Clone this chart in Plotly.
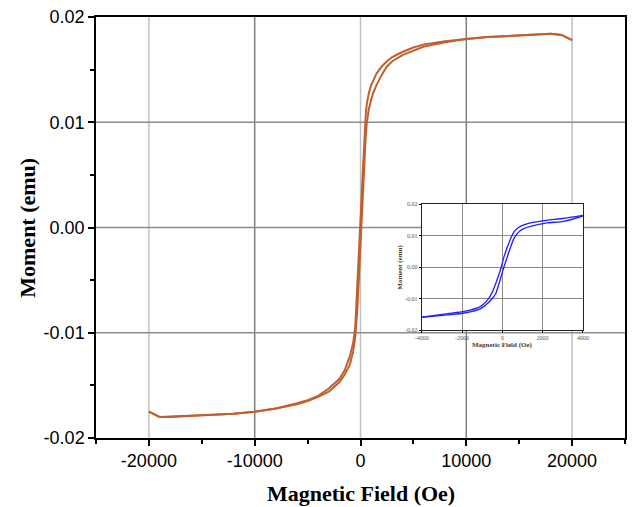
import plotly.graph_objects as go

# ---------------- main loop data ----------------
h_desc = [20000, 19000, 18000, 16000, 14000, 12000, 10000, 8000, 6000, 5000, 4000, 3000,
          2500, 2000, 1500, 1200, 1000, 800, 600, 500, 400, 300, 200, 100, 0, -100, -200,
          -300, -400, -500, -700, -1000, -1500, -2000, -3000, -4000, -5000, -6000, -8000,
          -10000, -12000, -14000, -16000, -18000, -19000, -20000]
m_desc = [0.0178, 0.0183, 0.0184, 0.0183, 0.0182, 0.0181, 0.0179, 0.0177, 0.0174, 0.0171,
          0.0167, 0.0162, 0.0158, 0.0153, 0.0146, 0.0140, 0.0135, 0.0128, 0.0118, 0.0108,
          0.0092, 0.0072, 0.0050, 0.0028, 0.0008, -0.0012, -0.0032, -0.0055, -0.0078,
          -0.0095, -0.0110, -0.0122, -0.0136, -0.0144, -0.0153, -0.0160, -0.0164, -0.0167,
          -0.0172, -0.0175, -0.0177, -0.0178, -0.0179, -0.0180, -0.0180, -0.0175]

h_asc = [-20000, -19000, -18000, -16000, -14000, -12000, -10000, -8000, -6000, -5000, -4000,
         -3000, -2000, -1500, -1000, -700, -500, -400, -300, -200, -100, 0, 100, 200, 300,
         400, 500, 600, 800, 1000, 1200, 1500, 2000, 2500, 3000, 4000, 5000, 6000, 8000,
         10000, 12000, 14000, 16000, 18000, 19000, 20000]
m_asc = [-0.0175, -0.0180, -0.0180, -0.0179, -0.0178, -0.0177, -0.0175, -0.0172, -0.0168,
         -0.0165, -0.0161, -0.0156, -0.0147, -0.0140, -0.0130, -0.0118, -0.0105, -0.0094,
         -0.0078, -0.0058, -0.0036, -0.0014, 0.0008, 0.0030, 0.0052, 0.0072, 0.0088, 0.0100,
         0.0113, 0.0121, 0.0128, 0.0135, 0.0145, 0.0153, 0.0158, 0.0164, 0.0168, 0.0172,
         0.0176, 0.0179, 0.0181, 0.0182, 0.0183, 0.0184, 0.0183, 0.0178]

# ---------------- inset loop data ----------------
hi_desc = [4000, 3000, 2200, 1400, 1070, 900, 740, 576, 410, 247, 82, -50, -165, -330, -490,
           -710, -1070, -1890, -2716, -4000]
mi_desc = [0.0164, 0.0154, 0.0148, 0.0140, 0.0134, 0.0129, 0.0122, 0.0111, 0.0090, 0.0063,
           0.0032, 0.0, -0.0023, -0.0053, -0.0079, -0.0103, -0.0125, -0.0141, -0.0148,
           -0.0159]
hi_asc = [-4000, -2716, -1890, -1070, -540, -330, -165, -50, 82, 247, 410, 576, 740, 900,
          1070, 1400, 2222, 3045, 4000]
mi_asc = [-0.0160, -0.0152, -0.0146, -0.0132, -0.0103, -0.0085, -0.0053, -0.0028, 0.0,
          0.0032, 0.0063, 0.0090, 0.0106, 0.0116, 0.0122, 0.0129, 0.0140, 0.0145, 0.0162]

x_ticks = [-20000, -10000, 0, 10000, 20000]
x_labels = ["-20000", "-10000", "0", "10000", "20000"]
y_ticks = [0.02, 0.01, 0.0, -0.01, -0.02]
y_labels = ["0.02", "0.01", "0.00", "-0.01", "-0.02"]
xi_ticks = [-4000, -2000, 0, 2000, 4000]
xi_labels = ["-4000", "-2000", "0", "2000", "4000"]

MAIN_COLOR = "#c0602f"
INSET_COLOR = "#1f1fff"

fig = go.Figure()
fig.add_trace(go.Scatter(x=h_desc, y=m_desc, mode="lines",
                         line=dict(color=MAIN_COLOR, width=2), showlegend=False))
fig.add_trace(go.Scatter(x=h_asc, y=m_asc, mode="lines",
                         line=dict(color=MAIN_COLOR, width=2), showlegend=False))
fig.add_trace(go.Scatter(x=hi_desc, y=mi_desc, mode="lines", xaxis="x2", yaxis="y2",
                         line=dict(color=INSET_COLOR, width=1.3, shape="spline",
                                   smoothing=0.6), showlegend=False))
fig.add_trace(go.Scatter(x=hi_asc, y=mi_asc, mode="lines", xaxis="x2", yaxis="y2",
                         line=dict(color=INSET_COLOR, width=1.3, shape="spline",
                                   smoothing=0.6), showlegend=False))

shapes = []
grid_dark = "#7f7f7f"
grid_light = "#c0c0c0"
for xv in x_ticks:
    col = grid_dark if xv in (-10000, 10000) else grid_light
    shapes.append(dict(type="line", xref="x", yref="y", x0=xv, x1=xv, y0=-0.02, y1=0.02,
                       line=dict(color=col, width=1.5), layer="below"))
for yv in [0.01, 0.0, -0.01]:
    shapes.append(dict(type="line", xref="x", yref="y", x0=-25000, x1=25000, y0=yv, y1=yv,
                       line=dict(color="#8c8c8c", width=1.5), layer="below"))
# white backing of the inset
shapes.append(dict(type="rect", xref="paper", yref="paper", x0=0.561, x1=0.9466,
                   y0=0.19, y1=0.584, fillcolor="white", line=dict(width=0), layer="below"))

tick_font = dict(family="Liberation Sans, Arial", size=18, color="black")
title_font = dict(family="Liberation Serif, Times New Roman", size=22, color="black")
inset_tick_font = dict(family="Liberation Serif, Times New Roman", size=6, color="#555555")
inset_title_font = dict(family="Liberation Serif, Times New Roman", size=7, color="#4a3a33")

fig.update_layout(
    width=632, height=507,
    margin=dict(l=96, r=1, t=17, b=69),
    paper_bgcolor="white", plot_bgcolor="white",
    shapes=shapes,
    xaxis=dict(range=[-25000, 25000], tickvals=x_ticks, ticktext=x_labels,
               ticks="outside", ticklen=6, tickwidth=1.5, tickcolor="black",
               minor=dict(ticks="outside", dtick=5000, tick0=0, ticklen=4, tickwidth=1.5,
                          tickcolor="black", showgrid=False),
               showline=True, linecolor="black", linewidth=1.5, mirror=True,
               showgrid=False, zeroline=False, tickfont=tick_font),
    yaxis=dict(range=[-0.02, 0.02], tickvals=y_ticks, ticktext=y_labels,
               ticks="outside", ticklen=6, tickwidth=1.5, tickcolor="black",
               minor=dict(ticks="outside", dtick=0.005, tick0=0, ticklen=4, tickwidth=1.5,
                          tickcolor="black", showgrid=False),
               showline=True, linecolor="black", linewidth=1.5, mirror=True,
               showgrid=False, zeroline=False, tickfont=tick_font),
    xaxis2=dict(domain=[0.6157, 0.9204], anchor="y2", range=[-4000, 4000],
                tickvals=xi_ticks, ticktext=xi_labels, ticks="outside", ticklen=2,
                tickcolor="black", showline=True, linecolor="#222222", linewidth=1,
                mirror=True, showgrid=True, gridcolor="#8a8a8a", gridwidth=1,
                zeroline=False, tickfont=inset_tick_font),
    yaxis2=dict(domain=[0.2565, 0.5558], anchor="x2", range=[-0.02, 0.02],
                tickvals=y_ticks, ticktext=y_labels, ticks="outside", ticklen=2,
                tickcolor="black", showline=True, linecolor="#222222", linewidth=1,
                mirror=True, showgrid=True, gridcolor="#8a8a8a", gridwidth=1,
                zeroline=False, tickfont=inset_tick_font),
    annotations=[
        dict(text="<b>Magnetic Field (Oe)</b>", xref="paper", yref="paper", x=0.5, y=-0.133,
             xanchor="center", yanchor="middle", showarrow=False, font=title_font),
        dict(text="<b>Moment (emu)</b>", xref="paper", yref="paper", x=-0.130, y=0.5,
             xanchor="center", yanchor="middle", textangle=-90, showarrow=False,
             font=title_font),
        dict(text="<b>Magnetic Field (Oe)</b>", xref="paper", yref="paper", x=0.7687,
             y=0.2209, xanchor="center", yanchor="middle", showarrow=False,
             font=inset_title_font),
        dict(text="<b>Moment (emu)</b>", xref="paper", yref="paper", x=0.574, y=0.406,
             xanchor="center", yanchor="middle", textangle=-90, showarrow=False,
             font=inset_title_font),
    ],
)

fig.write_html("out.html")
